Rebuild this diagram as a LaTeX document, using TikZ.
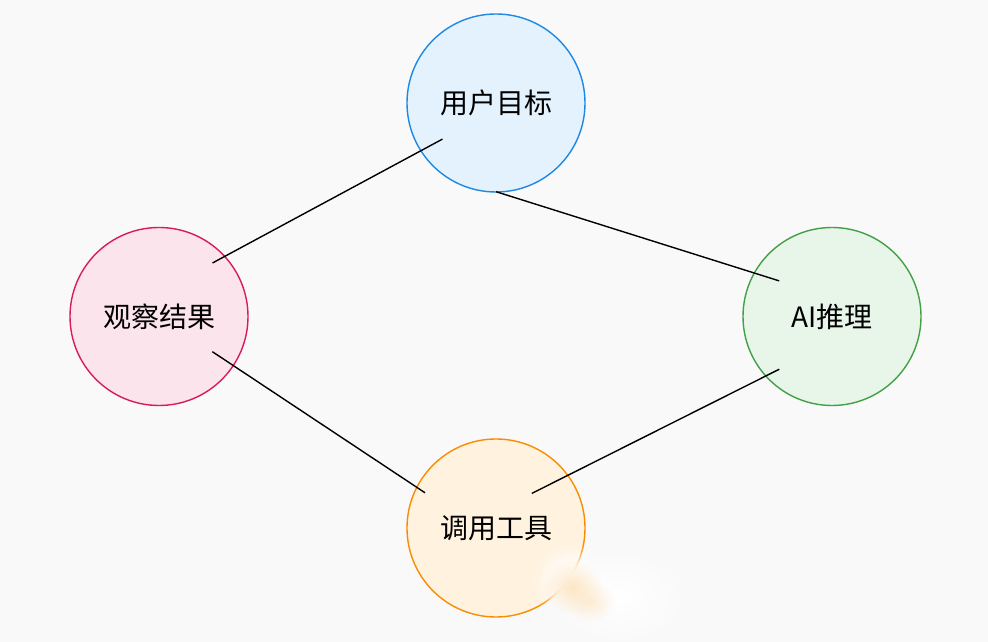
\documentclass[tikz,border=0pt]{standalone}
\usepackage{fontspec}
\newfontfamily\cjk{Noto Sans CJK SC}
\usetikzlibrary{calc,fadings}
\definecolor{bgc}{HTML}{F9F9F9}
\definecolor{bluefill}{HTML}{E3F2FD}\definecolor{blueline}{HTML}{1E88E5}
\definecolor{pinkfill}{HTML}{FCE4EC}\definecolor{pinkline}{HTML}{D81B60}
\definecolor{greenfill}{HTML}{E8F5E9}\definecolor{greenline}{HTML}{43A047}
\definecolor{orangefill}{HTML}{FFF3E0}\definecolor{orangeline}{HTML}{FB8C00}
\definecolor{smear}{HTML}{FDE6C4}
\tikzfading[name=fuzzy, inner color=transparent!0, outer color=transparent!100]
\tikzset{
  stage/.style={circle, minimum size=178pt, inner sep=0pt, line width=1.4pt,
    font=\cjk\fontsize{28}{32}\selectfont, text=black},
  link/.style={line width=1.4pt, draw=black},
}
\begin{document}
\begin{tikzpicture}[x=1pt,y=1pt]
\fill[bgc] (0,0) rectangle (988,642);
\useasboundingbox (0,0) rectangle (988,642);
\node[stage, fill=bluefill, draw=blueline] (goal) at (496,539) {用户目标};
\node[stage, fill=pinkfill, draw=pinkline] (obs) at (159,325.5) {观察结果};
\node[stage, fill=greenfill, draw=greenline] (ai) at (832,325.5) {AI推理};
\node[stage, fill=orangefill, draw=orangeline] (tool) at (496,114) {调用工具};
\coordinate (g1) at ($(goal.center)+(214:64.6)$);
\coordinate (o1) at ($(obs.center)+(45:75.7)$);
\coordinate (g2) at ($(goal.center)+(-90:88.7)$);
\coordinate (a1) at ($(ai.center)+(146:63.7)$);
\coordinate (o2) at ($(obs.center)+(-33.4:63.9)$);
\coordinate (t1) at ($(tool.center)+(153.6:79.3)$);
\coordinate (a2) at ($(ai.center)+(225:74.6)$);
\coordinate (t2) at ($(tool.center)+(44:49.8)$);
\draw[link] (g1) -- (o1);
\draw[link] (g2) -- (a1);
\draw[link] (o2) -- (t1);
\draw[link] (a2) -- (t2);
% smudge near the lower right of the bottom circle
\fill[white, path fading=fuzzy] (572,60) ellipse [x radius=40, y radius=40];
\fill[white, path fading=fuzzy] (572,60) ellipse [x radius=34, y radius=34];
\fill[white, path fading=fuzzy] (620,45) ellipse [x radius=70, y radius=50];
\fill[smear, path fading=fuzzy] (572,55) ellipse [x radius=30, y radius=28];
\fill[smear, path fading=fuzzy, opacity=0.7] (590,40) ellipse [x radius=25, y radius=20];
\end{tikzpicture}
\end{document}
